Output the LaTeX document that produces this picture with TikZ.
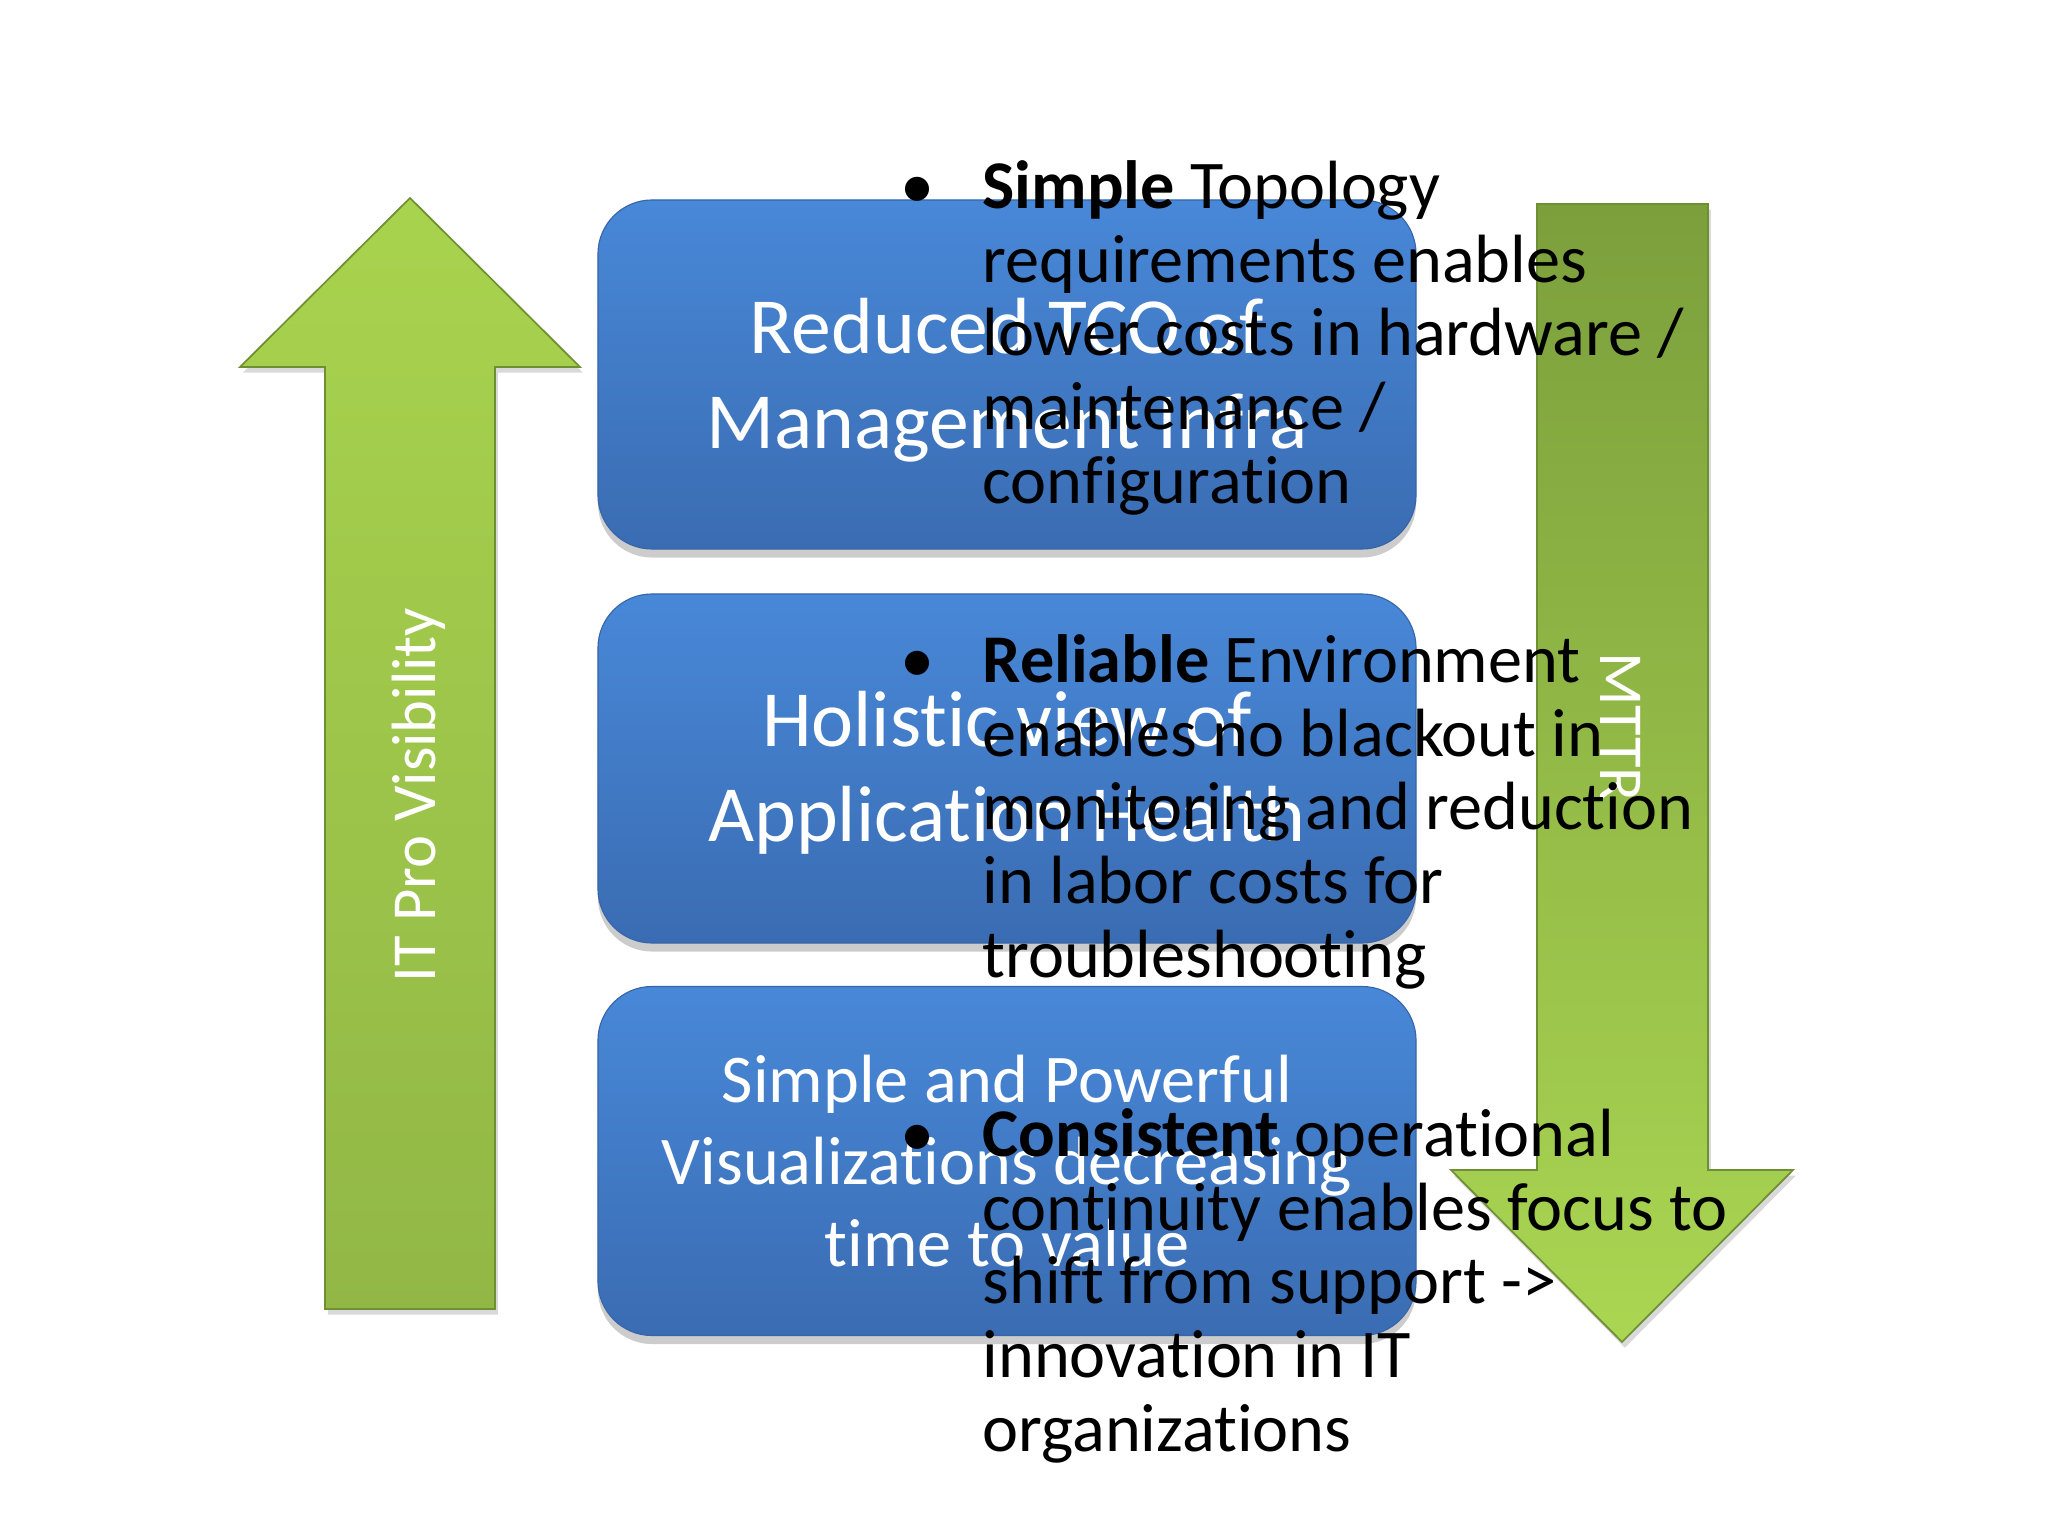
\documentclass[tikz,border=0pt]{standalone}
\usepackage{fontspec}
\setmainfont{Carlito}[Ligatures=NoCommon]
\usepackage{tikz}
\usetikzlibrary{shadows}

\definecolor{boxtop}{HTML}{4888D8}
\definecolor{boxbot}{HTML}{3A6CB2}
\definecolor{boxedge}{HTML}{3865A8}
\definecolor{uptop}{HTML}{A8D34E}
\definecolor{upbot}{HTML}{92B746}
\definecolor{downtop}{HTML}{7C9F3C}
\definecolor{downbot}{HTML}{AAD652}
\definecolor{arrowedge}{HTML}{6E8F32}

\begin{document}
\begin{tikzpicture}[
    x=0.3515625pt, y=-0.3515625pt,
    box/.style={draw=boxedge, rounded corners=19pt, minimum width=287.6pt, minimum height=122.7pt,
                top color=boxtop, bottom color=boxbot, text=white, align=center, inner sep=0pt,
                drop shadow={shadow xshift=0pt, shadow yshift=-3pt, opacity=0.2, fill=black}},
    boxtext/.style={text=white, align=center, inner sep=0pt},
    bigarrow/.style={draw=arrowedge, line width=0.6pt,
                drop shadow={shadow xshift=1pt, shadow yshift=-2pt, opacity=0.15, fill=black}},
    arrowlabel/.style={text=white, font=\fontsize{22}{26}\selectfont, inner sep=0pt},
    pointtext/.style={anchor=north west, align=left, inner sep=0pt,
                      font=\fontsize{24}{25.9}\selectfont}
]
\fill[white] (0,0) rectangle (2048,1536);
\useasboundingbox (0,0) rectangle (2048,1536);

% the two green arrows
\path[bigarrow, top color=uptop, bottom color=upbot]
    (325,1309) -- (325,367) -- (240,367) -- (410,198) -- (580,367) -- (495,367) -- (495,1309) -- cycle;
\path[bigarrow, top color=downtop, bottom color=downbot]
    (1537,204) -- (1708,204) -- (1708,1170) -- (1793,1170) -- (1622,1342) -- (1451,1170) -- (1537,1170) -- cycle;

\node[arrowlabel, rotate=90]  (visibility) at (419,795)  {IT Pro Visibility};
\node[arrowlabel, rotate=-90] (mttr)       at (1621,727) {MTTR};

\node[box] (tco)    at (1007,374.5) {};
\node[box] (health) at (1007,768.5) {};
\node[box] (visual) at (1007,1161)  {};

\node[boxtext, font=\fontsize{28}{33.4}\selectfont] (tcotext)    at (1007,380)
    {Reduced TCO of\\Management Infra};
\node[boxtext, font=\fontsize{28}{33.4}\selectfont] (healthtext) at (1007,773)
    {Holistic view of\\Application Health};
\node[boxtext, font=\fontsize{24}{28.7}\selectfont] (visualtext) at (1007,1161)
    {Simple and Powerful\\Visualizations decreasing\\time to value};

\node[pointtext] (simple) at (982,160)
    {\llap{•\hspace{17pt}}\textbf{Simple} Topology\\requirements enables\\lower costs in hardware /\\maintenance /\\configuration};
\node[pointtext] (reliable) at (982,634)
    {\llap{•\hspace{17pt}}\textbf{Reliable} Environment\\enables no blackout in\\monitoring and reduction\\in labor costs for\\troubleshooting};
\node[pointtext] (consistent) at (982,1108)
    {\llap{•\hspace{17pt}}\textbf{Consistent} operational\\continuity enables focus to\\shift from support ->\\innovation in IT\\organizations};
\end{tikzpicture}
\end{document}
